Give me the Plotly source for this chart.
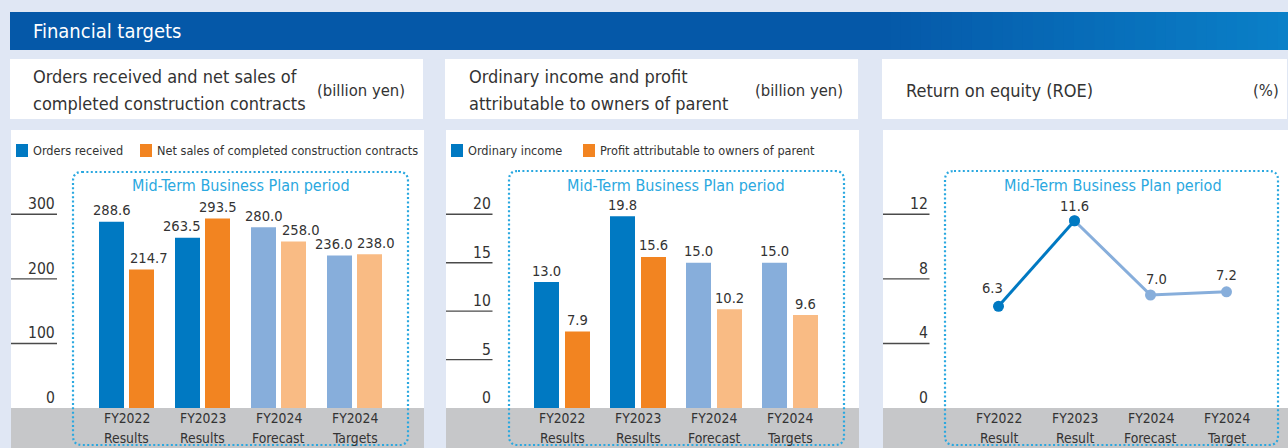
import plotly.graph_objects as go

# ---------------- data ----------------
categories_bars = ["FY2022<br>Results", "FY2023<br>Results", "FY2024<br>Forecast", "FY2024<br>Targets"]
categories_roe = ["FY2022<br>Result", "FY2023<br>Result", "FY2024<br>Forecast", "FY2024<br>Target"]

orders_received = [288.6, 263.5, 280.0, 236.0]
net_sales = [214.7, 293.5, 258.0, 238.0]

ordinary_income = [13.0, 19.8, 15.0, 15.0]
profit_parent = [7.9, 15.6, 10.2, 9.6]

roe = [6.3, 11.6, 7.0, 7.2]

ticks_sales = [0, 100, 200, 300]
ticks_income = [0, 5, 10, 15, 20]
ticks_roe = [0, 4, 8, 12]

# results are drawn in solid colours, plan figures in pale tints
is_actual = [True, True, False, False]

# ---------------- style ----------------
W, H = 1288, 448
STEP = 76.0  # pixels between category centres
FONT = "DejaVu Sans Condensed, DejaVu Sans, sans-serif"
TXT = "#333333"
BG = "#E0E7F4"
BLUE, BLUE_PALE = "#0079C2", "#87AEDB"
ORANGE, ORANGE_PALE = "#F28421", "#F9BB84"
CYAN = "#2AA8E0"
BAND = "#C6C7C9"
BAR_W = 25.0

SZ_HEADER = 20
SZ_TITLE = 18
SZ_UNIT = 16.5
SZ_LEGEND = 12.6
SZ_PLAN = 16
SZ_VALUE = 14.6
SZ_TICK = 15.6
SZ_CAT = 13.8


def px(x):
    return x / W


def py(y):
    return 1 - y / H


def rounded_rect(x0, y0, x1, y1, r):
    pts = [
        ("M", [(x0 + r, y0)]), ("L", [(x1 - r, y0)]), ("Q", [(x1, y0), (x1, y0 + r)]),
        ("L", [(x1, y1 - r)]), ("Q", [(x1, y1), (x1 - r, y1)]),
        ("L", [(x0 + r, y1)]), ("Q", [(x0, y1), (x0, y1 - r)]),
        ("L", [(x0, y0 + r)]), ("Q", [(x0, y0), (x0 + r, y0)]),
    ]
    out = []
    for cmd, coords in pts:
        out.append(cmd + " " + " ".join(f"{px(a):.5f},{py(b):.5f}" for a, b in coords))
    return " ".join(out) + " Z"


panels = [
    dict(xa="x", ya="y", x0=11, x1=424, c0=126.5, scale=193.7 / 300, tick_right=57,
         ticks=ticks_sales, plan=(73, 172, 408, 445), plan_cx=241, cats=categories_bars),
    dict(xa="x2", ya="y2", x0=446, x1=859, c0=562, scale=193.7 / 20, tick_right=492.5,
         ticks=ticks_income, plan=(509, 171, 844, 445), plan_cx=676, cats=categories_bars),
    dict(xa="x3", ya="y3", x0=883, x1=1288, c0=998.5, scale=193.7 / 12, tick_right=929.5,
         ticks=ticks_roe, plan=(945, 171, 1278, 445), plan_cx=1113, cats=categories_roe),
]

PLOT_TOP, PLOT_BOTTOM = 130, 408

shapes = []
annotations = []

# header bar with a gradient on its right-hand part
c_left = (5, 88, 168)
c_right = (10, 128, 200)
g0, g1 = 880, 1288
shapes.append(dict(type="rect", xref="paper", yref="paper", x0=px(10), x1=px(g0 + 1),
                   y0=py(50), y1=py(12), fillcolor="rgb%s" % (c_left,), line_width=0, layer="below"))
n = 40
for k in range(n):
    t = (k + 0.5) / n
    col = tuple(round(c_left[j] + (c_right[j] - c_left[j]) * t) for j in range(3))
    xa = g0 + (g1 - g0) * k / n
    xb = g0 + (g1 - g0) * (k + 1) / n + 1
    shapes.append(dict(type="rect", xref="paper", yref="paper", x0=px(xa), x1=px(xb),
                       y0=py(50), y1=py(12), fillcolor="rgb%s" % (col,), line_width=0, layer="below"))
annotations.append(dict(text="Financial targets", x=px(31), y=py(31), xref="paper", yref="paper",
                        xanchor="left", yanchor="middle", showarrow=False,
                        font=dict(family=FONT, size=SZ_HEADER, color="white")))

layout_axes = {}
for i, p in enumerate(panels):
    sfx = "" if i == 0 else str(i + 1)
    layout_axes["xaxis" + sfx] = dict(
        domain=[px(p["x0"]), px(p["x1"])],
        range=[(p["x0"] - p["c0"]) / STEP, (p["x1"] - p["c0"]) / STEP],
        visible=False, fixedrange=True, anchor="y" + sfx)
    layout_axes["yaxis" + sfx] = dict(
        domain=[py(PLOT_BOTTOM), py(PLOT_TOP)],
        range=[0, (PLOT_BOTTOM - PLOT_TOP) / p["scale"]],
        visible=False, fixedrange=True, anchor="x" + sfx)

    # white title box and chart box
    shapes.append(dict(type="rect", xref="paper", yref="paper", x0=px(p["x0"] - 1), x1=px(p["x1"] - 1),
                       y0=py(119), y1=py(59), fillcolor="white", line_width=0, layer="below"))
    shapes.append(dict(type="rect", xref="paper", yref="paper", x0=px(p["x0"]), x1=px(p["x1"]),
                       y0=py(448), y1=py(130), fillcolor="white", line_width=0, layer="below"))
    # grey category band
    shapes.append(dict(type="rect", xref="paper", yref="paper", x0=px(p["x0"]), x1=px(p["x1"]),
                       y0=py(448), y1=py(408), fillcolor=BAND, line_width=0, layer="below"))

    # y ticks: short rule under each label
    for tv in p["ticks"]:
        if tv != 0:
            shapes.append(dict(type="line", xref="paper", yref=p["ya"], x0=px(p["x0"]), x1=px(p["tick_right"]),
                               y0=tv, y1=tv, line=dict(color="#4a4a4a", width=1.4)))
        annotations.append(dict(text=str(tv), x=px(p["tick_right"]), y=tv, xref="paper", yref=p["ya"],
                                xanchor="right", yanchor="bottom", showarrow=False, yshift=-1,
                                font=dict(family=FONT, size=SZ_TICK, color=TXT)))

    # category labels (two lines each)
    for ci, cat in enumerate(p["cats"]):
        top, bottom = cat.split("<br>")
        for txt, yy in ((top, 418), (bottom, 437.5)):
            annotations.append(dict(text=txt, x=ci, y=py(yy), xref=p["xa"], yref="paper",
                                    xanchor="center", yanchor="middle", showarrow=False,
                                    font=dict(family=FONT, size=SZ_CAT, color=TXT)))

    # mid-term plan frame
    bx0, by0, bx1, by1 = p["plan"]
    shapes.append(dict(type="path", xref="paper", yref="paper", path=rounded_rect(bx0, by0, bx1, by1, 9),
                       line=dict(color=CYAN, width=2.2, dash="2px,2.4px"), layer="above"))
    annotations.append(dict(text="Mid-Term Business Plan period", x=px(p["plan_cx"]), y=py(185),
                            xref="paper", yref="paper", xanchor="center", yanchor="middle",
                            showarrow=False, font=dict(family=FONT, size=SZ_PLAN, color=CYAN)))

# panel titles
titles = [
    (["Orders received and net sales of", "completed construction contracts"], 31, "(billion yen)", 407),
    (["Ordinary income and profit", "attributable to owners of parent"], 467, "(billion yen)", 845),
    (["Return on equity (ROE)"], 904, "(%)", 1281),
]
for lines, tx, unit, ux in titles:
    ys = [90] if len(lines) == 1 else [76, 103]
    for line, yy in zip(lines, ys):
        annotations.append(dict(text=line, x=px(tx), y=py(yy), xref="paper", yref="paper", xanchor="left",
                                yanchor="middle", align="left", showarrow=False,
                                font=dict(family=FONT, size=SZ_TITLE, color=TXT)))
    annotations.append(dict(text=unit, x=px(ux), y=py(90), xref="paper", yref="paper", xanchor="right",
                            yanchor="middle", showarrow=False, font=dict(family=FONT, size=SZ_UNIT, color=TXT)))

# legends
legends = [
    [(16, BLUE, "Orders received"), (140, ORANGE, "Net sales of completed construction contracts")],
    [(451, BLUE, "Ordinary income"), (583, ORANGE, "Profit attributable to owners of parent")],
]
for items in legends:
    for lx, col, name in items:
        shapes.append(dict(type="rect", xref="paper", yref="paper", x0=px(lx), x1=px(lx + 12),
                           y0=py(157), y1=py(144), fillcolor=col, line_width=0))
        annotations.append(dict(text=name, x=px(lx + 15), y=py(150), xref="paper", yref="paper",
                                xanchor="left", yanchor="middle", showarrow=False,
                                font=dict(family=FONT, size=SZ_LEGEND, color=TXT)))

fig = go.Figure()

# grouped bars
bar_sets = [
    (panels[0], orders_received, net_sales, 5, [0, -6, 0, -6], [7, 0, 7, 6.5]),
    (panels[1], ordinary_income, profit_parent, 6, [0, 0, 0, 0], [0, 0, 0, 0]),
]
for p, first, second, gap, nud_a, nud_b in bar_sets:
    xs = list(range(len(first)))
    width = BAR_W / STEP
    off_a = -(BAR_W + gap / 2) / STEP
    off_b = (gap / 2) / STEP
    for vals, off, solid, pale, nud in [(first, off_a, BLUE, BLUE_PALE, nud_a),
                                        (second, off_b, ORANGE, ORANGE_PALE, nud_b)]:
        fig.add_trace(go.Bar(
            x=xs, y=vals, width=width, offset=off,
            marker=dict(color=[solid if a else pale for a in is_actual], line_width=0),
            xaxis=p["xa"], yaxis=p["ya"], hoverinfo="skip"))
        for i, v in enumerate(vals):
            annotations.append(dict(text=f"{v:.1f}", x=i + off + width / 2, y=v, xref=p["xa"], yref=p["ya"],
                                    xanchor="center", yanchor="middle", showarrow=False,
                                    xshift=nud[i], yshift=12,
                                    font=dict(family=FONT, size=SZ_VALUE, color=TXT)))

# ROE line: plan segment (pale) under the results segment (solid)
p3 = panels[2]
xs = list(range(len(roe)))
fig.add_trace(go.Scatter(
    x=xs[1:], y=roe[1:], mode="lines+markers",
    line=dict(color=BLUE_PALE, width=3),
    marker=dict(size=11, color=BLUE_PALE),
    xaxis=p3["xa"], yaxis=p3["ya"], hoverinfo="skip"))
fig.add_trace(go.Scatter(
    x=xs[:2], y=roe[:2], mode="lines+markers",
    line=dict(color=BLUE, width=3),
    marker=dict(size=11, color=BLUE),
    xaxis=p3["xa"], yaxis=p3["ya"], hoverinfo="skip"))
roe_shift = [(-6, 19), (0, 15), (6, 17), (0, 17)]
for i, v in enumerate(roe):
    dx, dy = roe_shift[i]
    annotations.append(dict(text=f"{v:.1f}", x=i, y=v, xref=p3["xa"], yref=p3["ya"],
                            xanchor="center", yanchor="middle", showarrow=False,
                            xshift=dx, yshift=dy, font=dict(family=FONT, size=SZ_VALUE, color=TXT)))

fig.update_layout(
    width=W, height=H,
    margin=dict(l=0, r=0, t=0, b=0),
    paper_bgcolor=BG, plot_bgcolor="rgba(0,0,0,0)",
    showlegend=False, barmode="overlay", hovermode=False,
    shapes=shapes, annotations=annotations,
    **layout_axes,
)

fig.write_html("out.html", config={"displayModeBar": False})
